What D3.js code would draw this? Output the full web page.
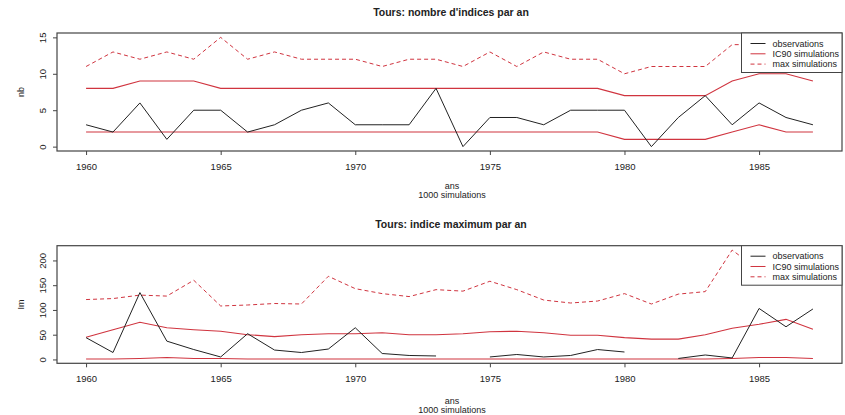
<!DOCTYPE html>
<meta charset="utf-8">
<html lang="fr">
<head>
    <title>Tours</title>
    <script src="https://d3js.org/d3.v7.min.js"></script>
</head>
<style>
    body { margin: 0; background: #fff; }
    text { font-family: "Liberation Sans", Arial, sans-serif; font-size: 9px; fill: #222; }
    .title { font-weight: bold; font-size: 10.5px; text-anchor: middle; }
    .frame { fill: none; stroke: #444; stroke-width: 1.2px; }
    .axis line, .axis path { stroke: #444; }
</style>
<body>
<script>
    var years = d3.range(1960, 1988);
    var xTicks = [1960, 1965, 1970, 1975, 1980, 1985];

    // nombre d'indices par an
    var nbObs  = [3, 2, 6, 1, 5, 5, 2, 3, 5, 6, 3, 3, 3, 8, 0, 4, 4, 3, 5, 5, 5, 0, 4, 7, 3, 6, 4, 3];
    var nbLow  = [2, 2, 2, 2, 2, 2, 2, 2, 2, 2, 2, 2, 2, 2, 2, 2, 2, 2, 2, 2, 1, 1, 1, 1, 2, 3, 2, 2];
    var nbHigh = [8, 8, 9, 9, 9, 8, 8, 8, 8, 8, 8, 8, 8, 8, 8, 8, 8, 8, 8, 8, 7, 7, 7, 7, 9, 10, 10, 9];
    var nbMax  = [11, 13, 12, 13, 12, 15, 12, 13, 12, 12, 12, 11, 12, 12, 11, 13, 11, 13, 12, 12, 10, 11, 11, 11, 14, 14, 13, 12];
    var nbTicks = [0, 5, 10, 15];

    // indice maximum par an
    var imObs  = [44, 14, 135, 37, 20, 5, 52, 19, 14, 21, 64, 12, 8, 7, null, 5, 10, 5, 8, 20, 15, null, 2, 9, 3, 103, 66, 102];
    var imLow  = [1, 1, 2, 4, 2, 2, 1, 1, 1, 1, 1, 1, 1, 1, 1, 1, 1, 1, 1, 1, 1, 1, 1, 1, 2, 4, 4, 2];
    var imHigh = [45, 60, 75, 64, 60, 57, 50, 46, 50, 52, 52, 54, 50, 50, 52, 56, 57, 54, 49, 49, 44, 41, 41, 50, 63, 71, 81, 61];
    var imMax  = [121, 123, 130, 128, 160, 108, 110, 113, 112, 168, 143, 133, 127, 141, 138, 158, 141, 120, 114, 118, 133, 112, 132, 137, 221, 180, 170, 160];
    var imTicks = [0, 50, 100, 150, 200];

    var legendLabels = ["observations", "IC90 simulations", "max simulations"];
    var red = "#d0343f";

    var svg = d3.select("body").append("svg").attr("width", 845).attr("height", 415);

    function rExtent(lo, hi) {
        var d = (hi - lo) * 0.04;
        return [lo - d, hi + d];
    }

    var x = d3.scaleLinear().domain(rExtent(1960, 1987)).range([57, 842]);

    function panel(top, bottom, title, ylab, obs, low, high, mx, ticks, titleY, xlabY) {
        var all = obs.concat(low, high, mx).filter(v => v != null);
        var y = d3.scaleLinear().domain(rExtent(d3.min(all), d3.max(all))).range([bottom, top]);
        var g = svg.append("g");

        var line = d3.line()
            .defined(d => d[1] != null)
            .x(d => x(d[0]))
            .y(d => y(d[1]));
        var pts = arr => years.map((yr, i) => [yr, arr[i]]);

        g.append("path").attr("d", line(pts(mx))).attr("fill", "none")
            .attr("stroke", red).attr("stroke-width", 1).attr("stroke-dasharray", "4,3");
        g.append("path").attr("d", line(pts(high))).attr("fill", "none")
            .attr("stroke", red).attr("stroke-width", 1.1);
        g.append("path").attr("d", line(pts(low))).attr("fill", "none")
            .attr("stroke", red).attr("stroke-width", 1.1);
        g.append("path").attr("d", line(pts(obs))).attr("fill", "none")
            .attr("stroke", "#222").attr("stroke-width", 1);

        // axes
        var ax = g.append("g").attr("class", "axis").attr("transform", "translate(0," + bottom + ")")
            .call(d3.axisBottom(x).tickValues(xTicks).tickFormat(d3.format("d")).tickSize(4).tickPadding(8));
        ax.select(".domain").remove();
        var ay = g.append("g").attr("class", "axis").attr("transform", "translate(57,0)")
            .call(d3.axisLeft(y).tickValues(ticks).tickSize(4));
        ay.select(".domain").remove();
        ay.selectAll("text")
            .attr("text-anchor", "middle")
            .attr("x", 0).attr("y", 0).attr("dy", 0)
            .attr("transform", "translate(-11,0) rotate(-90)");
        g.selectAll(".axis text").style("font-family", "'Liberation Sans', Arial, sans-serif")
            .style("font-size", "9.5px").attr("fill", "#222");

        g.append("rect").attr("class", "frame")
            .attr("x", 57).attr("y", top).attr("width", 842 - 57).attr("height", bottom - top);

        g.append("text").attr("class", "title").attr("x", 451).attr("y", titleY).text(title);
        g.append("text").attr("x", 452).attr("y", xlabY).attr("text-anchor", "middle").text("ans");
        g.append("text").attr("x", 452).attr("y", xlabY + 9).attr("text-anchor", "middle").text("1000 simulations");
        g.append("text").attr("text-anchor", "middle")
            .attr("transform", "translate(24," + ((top + bottom) / 2) + ") rotate(-90)").text(ylab);

        // legend
        var lg = g.append("g").attr("transform", "translate(741.5," + top + ")");
        lg.append("rect").attr("width", 842 - 741.5).attr("height", 39.5)
            .attr("fill", "#fff").attr("stroke", "#444").attr("stroke-width", 1);
        var styles = [["#222", null], [red, null], [red, "4,3"]];
        legendLabels.forEach(function (lab, i) {
            var ly = 10.5 + i * 10.3;
            lg.append("line").attr("x1", 9).attr("x2", 24).attr("y1", ly).attr("y2", ly)
                .attr("stroke", styles[i][0]).attr("stroke-width", 1)
                .attr("stroke-dasharray", styles[i][1]);
            lg.append("text").attr("x", 31).attr("y", ly).attr("dy", "0.35em").text(lab);
        });
    }

    panel(33, 151, "Tours: nombre d'indices par an", "nb", nbObs, nbLow, nbHigh, nbMax, nbTicks, 16, 189);
    panel(245.7, 363.3, "Tours: indice maximum par an", "Im", imObs, imLow, imHigh, imMax, imTicks, 228, 404);
</script>
</body>
</html>
